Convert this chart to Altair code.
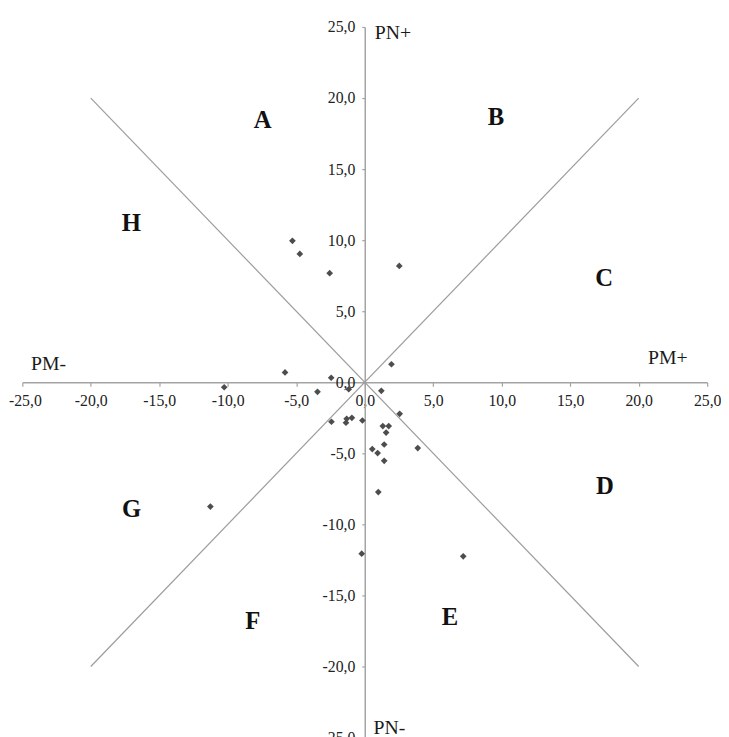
import altair as alt
import pandas as pd

# ---- data ----
pt_x = [-5.28, -4.74, -2.56, 2.52, 1.95, -5.82, -2.45, -10.26, -3.45, -1.17,
        1.21, 2.55, -2.43, -1.37, -1.32, -0.94, -0.17, 1.32, 1.75, 1.56,
        1.42, 0.55, 0.94, 1.42, 3.87, 0.99, -0.22, 7.19, -11.27]
pt_y = [9.95, 9.03, 7.68, 8.19, 1.27, 0.69, 0.32, -0.35, -0.67, -0.49,
        -0.60, -2.22, -2.78, -2.85, -2.57, -2.50, -2.69, -3.08, -3.08, -3.54,
        -4.38, -4.70, -4.98, -5.53, -4.63, -7.73, -12.06, -12.25, -8.75]

sector_labels = ["A", "B", "C", "D", "E", "F", "G", "H"]
sector_x = [-7.45, 9.58, 17.47, 17.54, 6.23, -8.18, -17.02, -17.04]
sector_y = [18.44, 18.68, 7.31, -7.34, -16.5, -16.8, -8.92, 11.2]

axis_names = ["PM-", "PM+", "PN+", "PN-"]
axis_name_x = [-23.09, 22.13, 2.05, 1.8]
axis_name_y = [1.27, 1.67, 24.6, -24.35]

diag_x1 = [-20, -20]
diag_y1 = [20, -20]
diag_x2 = [20, 20]
diag_y2 = [-20, 20]

tick_values = [-25, -20, -15, -10, -5, 0, 5, 10, 15, 20, 25]

# ---- tables ----
points = pd.DataFrame({"x": pt_x, "y": pt_y})
sectors = pd.DataFrame({"x": sector_x, "y": sector_y, "t": sector_labels})
names = pd.DataFrame({"x": axis_name_x, "y": axis_name_y, "t": axis_names})
diags = pd.DataFrame({"x": diag_x1, "y": diag_y1, "x2": diag_x2, "y2": diag_y2})

W, H = 694, 720
LABEL_EXPR = "(datum.value < 0 ? '-' : '') + abs(datum.value) + ',0'"
GRAY = "#a3a3a3"
SERIF = "Liberation Serif"


def xaxis():
    return alt.Axis(values=tick_values, labelExpr=LABEL_EXPR, orient="bottom",
                    offset=-H / 2, domainColor=GRAY, domainWidth=1.5,
                    tickColor=GRAY, tickSize=4, tickWidth=1.2,
                    labelFont=SERIF, labelFontSize=16, labelColor="#222222",
                    labelPadding=7, labelFlush=True, labelFlushOffset=14,
                    labelOverlap=False, grid=False, title=None)


def yaxis():
    return alt.Axis(values=tick_values, labelExpr=LABEL_EXPR, orient="left",
                    offset=-347, domainColor=GRAY, domainWidth=1.5,
                    tickColor=GRAY, tickSize=3, tickWidth=1.2,
                    labelFont=SERIF, labelFontSize=16, labelColor="#222222",
                    labelPadding=7, labelFlush=False, labelOverlap=False,
                    grid=False, title=None)


xs = alt.Scale(domain=[-25, 25], nice=False)
ys = alt.Scale(domain=[-25, 25], nice=False)

diag_layer = alt.Chart(diags).mark_rule(color="#9c9c9c", strokeWidth=1.2).encode(
    x=alt.X("x:Q", scale=xs, axis=xaxis()),
    y=alt.Y("y:Q", scale=ys, axis=yaxis()),
    x2="x2:Q",
    y2="y2:Q",
)

point_layer = alt.Chart(points).mark_point(
    shape="diamond", filled=True, size=46, color="#4d4d4d", opacity=1
).encode(
    x=alt.X("x:Q", scale=xs, axis=xaxis()),
    y=alt.Y("y:Q", scale=ys, axis=yaxis()),
)

sector_layer = alt.Chart(sectors).mark_text(
    font=SERIF, fontSize=25, fontWeight="bold", color="#111111"
).encode(
    x=alt.X("x:Q", scale=xs, axis=xaxis()),
    y=alt.Y("y:Q", scale=ys, axis=yaxis()),
    text="t:N",
)

name_layer = alt.Chart(names).mark_text(
    font=SERIF, fontSize=20, color="#1a1a1a"
).encode(
    x=alt.X("x:Q", scale=xs, axis=xaxis()),
    y=alt.Y("y:Q", scale=ys, axis=yaxis()),
    text="t:N",
)

chart = alt.layer(diag_layer, point_layer, sector_layer, name_layer).properties(
    width=W, height=H,
    background="white",
    autosize=alt.AutoSizeParams(type="none"),
    padding={"left": 14.5, "top": 14.3, "right": 14, "bottom": 10},
).configure(
    font=SERIF,
).configure_axis(
    labelFont=SERIF,
).configure_view(stroke=None)

chart.save("out.html", embed_options={"renderer": "svg", "actions": False})
